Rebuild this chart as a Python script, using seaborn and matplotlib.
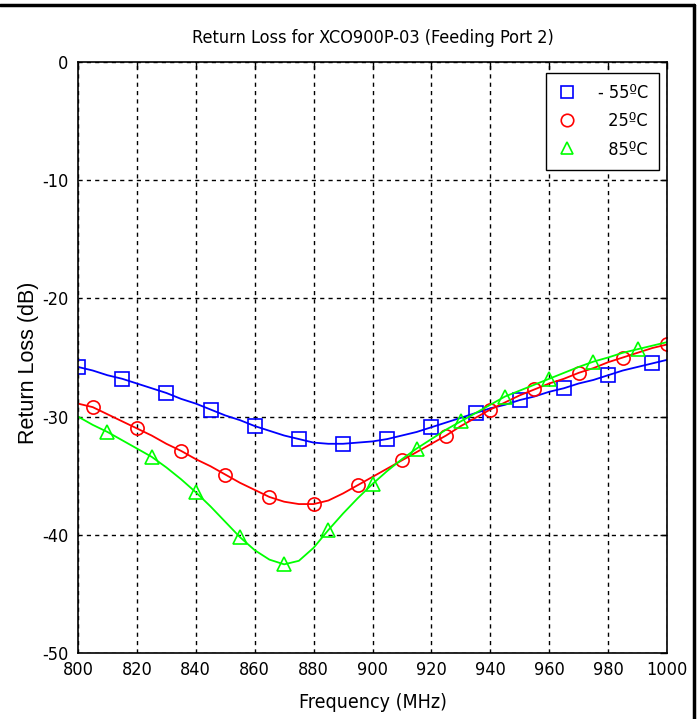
import matplotlib
matplotlib.use("Agg")
import matplotlib.pyplot as plt
from matplotlib.lines import Line2D
import seaborn as sns
import numpy as np

freq = list(range(800, 1001, 5))

loss_m55 = [-25.8, -26.1, -26.5, -26.8, -27.2, -27.6, -28.0, -28.5, -28.9, -29.4,
            -29.9, -30.3, -30.8, -31.2, -31.6, -31.9, -32.2, -32.3, -32.3, -32.2,
            -32.1, -31.9, -31.6, -31.3, -30.9, -30.5, -30.1, -29.7, -29.3, -29.0,
            -28.6, -28.3, -27.9, -27.6, -27.2, -26.9, -26.5, -26.1, -25.8, -25.5, -25.2]
loss_25 = [-28.9, -29.2, -29.8, -30.4, -31.0, -31.6, -32.3, -32.9, -33.6, -34.2,
           -34.9, -35.6, -36.2, -36.8, -37.2, -37.4, -37.4, -37.1, -36.5, -35.8,
           -35.1, -34.4, -33.7, -33.0, -32.3, -31.6, -30.8, -30.1, -29.4, -28.8,
           -28.2, -27.7, -27.2, -26.8, -26.3, -25.9, -25.4, -25.0, -24.6, -24.2, -23.9]
loss_85 = [-30.0, -30.7, -31.3, -32.0, -32.7, -33.4, -34.3, -35.3, -36.4, -37.6,
           -38.9, -40.2, -41.3, -42.1, -42.5, -42.2, -41.1, -39.6, -38.2, -36.9,
           -35.7, -34.6, -33.6, -32.7, -31.9, -31.1, -30.4, -29.7, -29.0, -28.3,
           -27.8, -27.3, -26.8, -26.3, -25.8, -25.35, -25.0, -24.6, -24.3, -24.0, -23.7]

labels = ["- 55ºC", "  25ºC", "  85ºC"]
colors = ["#0000ff", "#ff0000", "#00ff00"]
markers = ["s", "o", "^"]
mark_offsets = [0, 1, 2]

x_ticks = list(range(800, 1001, 20))
y_ticks = list(range(-50, 1, 10))

sns.set_style("white")
plt.rcParams["font.family"] = ["Liberation Sans", "DejaVu Sans"]
plt.rcParams["axes.unicode_minus"] = False
plt.rcParams["text.color"] = "black"
plt.rcParams["axes.labelcolor"] = "black"

COND = ["DejaVu Sans", "Liberation Sans"]

fig = plt.figure(figsize=(7.0, 7.19), dpi=100)
ax = fig.add_axes([78/700, 1-653/719, (667-78)/700, (653-62)/719])

series = [loss_m55, loss_25, loss_85]
handles = []
for vals, lab, col, mk, off in zip(series, labels, colors, markers, mark_offsets):
    sns.lineplot(x=freq, y=vals, ax=ax, color=col, linewidth=1.3,
                 marker=mk, markevery=(off, 3), markersize=10 if mk != "o" else 9.5,
                 markerfacecolor="none", markeredgecolor=col, markeredgewidth=1.2)
    handles.append(Line2D([], [], linestyle="none", marker=mk, markersize=9,
                          markerfacecolor="none", markeredgecolor=col,
                          markeredgewidth=1.2))

ax.set_xlim(800, 1000)
ax.set_ylim(-50, 0)
ax.set_xticks(x_ticks)
ax.set_yticks(y_ticks)
ax.grid(True, color="black", linestyle=(0, (3, 3)), linewidth=1.0)
for s in ax.spines.values():
    s.set_color("black")
    s.set_linewidth(1.2)
ax.tick_params(direction="in", length=5, width=1, top=True, right=True,
               labelsize=13, colors="black")
ax.tick_params(axis="x", pad=6)
ax.tick_params(axis="y", pad=7)
for t in ax.get_xticklabels() + ax.get_yticklabels():
    t.set_fontfamily(COND)
    t.set_fontstretch("condensed")
    t.set_fontsize(13)

ax.set_title("Return Loss for XCO900P-03 (Feeding Port 2)", fontsize=13, pad=14,
             fontstretch="condensed", family=COND, color="black")
ax.set_xlabel("Frequency (MHz)", fontsize=14, labelpad=10,
              fontstretch="condensed", family=COND, color="black")
ax.set_ylabel("Return Loss (dB)", fontsize=15.5, color="black")
ax.yaxis.set_label_coords(-0.067, (653-363)/591)

leg = ax.legend(handles, labels, loc="upper right",
                bbox_to_anchor=((659-78)/589, (653-73)/591),
                frameon=True, fancybox=False, framealpha=1, edgecolor="black",
                prop={"family": COND, "stretch": "condensed", "size": 13},
                handletextpad=1.1, borderpad=0.6, labelspacing=0.58,
                handlelength=1.2, borderaxespad=0)
leg.get_frame().set_linewidth(1.0)
for t in leg.get_texts():
    t.set_color("black")

fig.add_artist(Line2D([0, 694/700], [1-5/719, 1-5/719], transform=fig.transFigure,
                      color="black", linewidth=2.5))
fig.add_artist(Line2D([694/700, 694/700], [1-5/719, 0], transform=fig.transFigure,
                      color="black", linewidth=2.5))

fig.savefig("out.png", dpi=100)
